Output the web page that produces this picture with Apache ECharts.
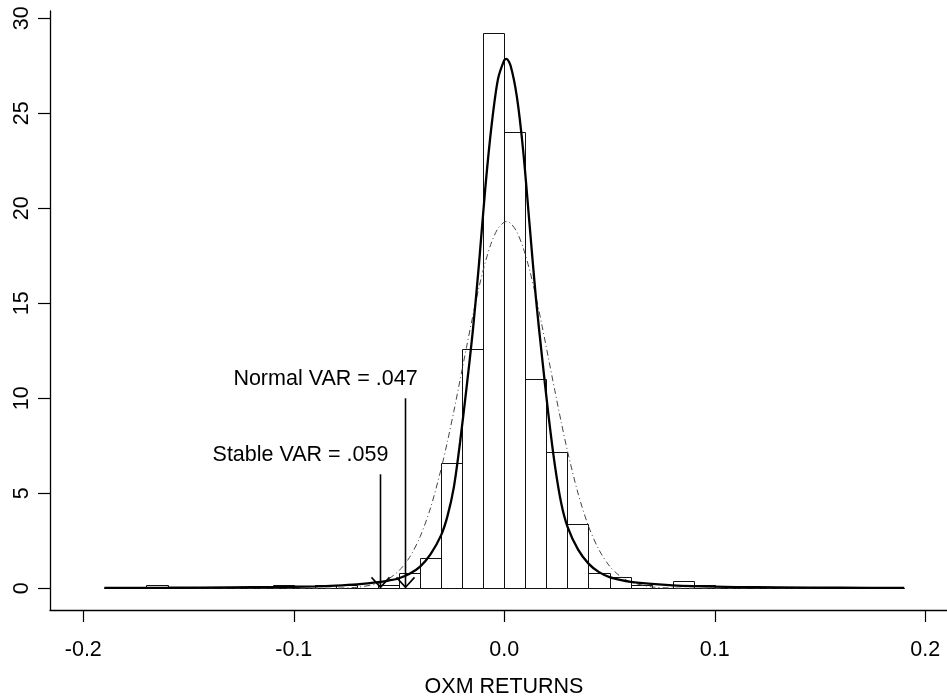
<!DOCTYPE html>
<html>
<head>
<meta charset="utf-8">
<title>OXM RETURNS</title>
<script src="https://cdn.jsdelivr.net/npm/echarts@6.0.0/dist/echarts.min.js"></script>
<style>
html, body { margin: 0; padding: 0; background: #fff; }
#main { width: 947px; height: 698px; }
</style>
</head>
<body>
<div id="main"></div>
<script>
// histogram: left edge of each bin and its density height (bin width .01)
var binStart = [-0.19, -0.18, -0.17, -0.16, -0.15, -0.14, -0.13, -0.12, -0.11, -0.10,
                -0.09, -0.08, -0.07, -0.06, -0.05, -0.04, -0.03, -0.02, -0.01, 0.00,
                0.01, 0.02, 0.03, 0.04, 0.05, 0.06, 0.07, 0.08, 0.09, 0.10,
                0.11, 0.12, 0.13, 0.14, 0.15, 0.16, 0.17, 0.18];
var binHeight = [0, 0, 0.2, 0, 0, 0, 0, 0, 0.2, 0,
                 0.2, 0.2, 0, 0.2, 0.8, 1.6, 6.6, 12.6, 29.2, 24.0,
                 11.0, 7.2, 3.4, 0.8, 0.6, 0.2, 0, 0.4, 0.2, 0,
                 0, 0, 0, 0, 0, 0, 0, 0];
var binWidth = 0.01;

// fitted densities
var curveX = [-0.19, -0.16, -0.13, -0.11, -0.09, -0.08, -0.07, -0.06, -0.055, -0.05,
              -0.045, -0.04, -0.035, -0.03, -0.027, -0.024, -0.021, -0.018, -0.015, -0.012,
              -0.009, -0.006, -0.003, 0, 0.001, 0.003, 0.006, 0.009, 0.012, 0.015,
              0.018, 0.021, 0.024, 0.027, 0.03, 0.035, 0.04, 0.045, 0.05, 0.055,
              0.06, 0.07, 0.08, 0.09, 0.11, 0.13, 0.16, 0.19];
var stableY = [0.02, 0.03, 0.047, 0.065, 0.105, 0.145, 0.21, 0.32, 0.41, 0.53,
               0.76, 1.14, 1.8, 2.8, 3.8, 5.3, 7.7, 10.5, 13.5, 17.1,
               21.1, 24.4, 26.8, 27.8, 27.86, 27.5, 25.85, 23.0, 19.15, 15.3,
               12.1, 9.1, 6.5, 4.5, 3.25, 2.05, 1.3, 0.85, 0.59, 0.44,
               0.34, 0.23, 0.155, 0.115, 0.067, 0.048, 0.03, 0.02];
var normalY = [0, 0, 0, 0, 0.001, 0.009, 0.054, 0.25, 0.50, 0.93,
               1.63, 2.71, 4.25, 6.29, 7.73, 9.30, 10.97, 12.66, 14.31, 15.85,
               17.17, 18.23, 18.94, 19.28, 19.30, 19.21, 18.75, 17.91, 16.76, 15.36,
               13.78, 12.10, 10.41, 8.77, 7.23, 5.01, 3.27, 2.02, 1.17, 0.64,
               0.33, 0.075, 0.013, 0.002, 0, 0, 0, 0];

// axes
var xTicks = [-0.2, -0.1, 0, 0.1, 0.2];
var xTickLabels = ['-0.2', '-0.1', '0.0', '0.1', '0.2'];
var yTicks = [0, 5, 10, 15, 20, 25, 30];

// VAR arrows
var varX = [-0.059, -0.047];
var varTop = [6, 10];
var varLabels = ['Stable VAR = .059', 'Normal VAR = .047'];
var arrowTip = 0.05;

var FONT = '"Liberation Sans", Arial, Helvetica, sans-serif';
var FS = 21.5;

var histData = [];
for (var i = 0; i < binStart.length; i++) {
    histData.push([binStart[i], binHeight[i]]);
}
var stableData = [], normalData = [];
for (var i = 0; i < curveX.length; i++) {
    stableData.push([curveX[i], stableY[i]]);
    normalData.push([curveX[i], normalY[i]]);
}
var arrowData = [];
for (var i = 0; i < varX.length; i++) {
    arrowData.push([varX[i], varTop[i]]);
}

var myChart = echarts.init(document.getElementById('main'));
var option = {
    animation: false,
    backgroundColor: '#fff',
    grid: { left: 50, right: 0, top: 11, bottom: 88, outerBoundsMode: 'none' },
    xAxis: {
        type: 'value',
        min: -0.21582,
        max: 0.21031,
        name: 'OXM RETURNS',
        nameLocation: 'middle',
        nameGap: 66,
        nameTextStyle: { color: '#000', fontSize: FS, fontFamily: FONT, padding: [0, 0, 0, 11] },
        axisLine: { onZero: false, lineStyle: { color: '#000', width: 1.3 } },
        axisTick: { customValues: xTicks, length: 12, lineStyle: { color: '#000', width: 1.2 } },
        axisLabel: {
            customValues: xTicks,
            margin: 29,
            color: '#000',
            fontSize: FS,
            fontFamily: FONT,
            formatter: function (v) {
                for (var k = 0; k < xTicks.length; k++) {
                    if (Math.abs(xTicks[k] - v) < 1e-9) return xTickLabels[k];
                }
                return '';
            }
        },
        splitLine: { show: false }
    },
    yAxis: {
        type: 'value',
        min: -1.142,
        max: 30.384,
        axisLine: { onZero: false, lineStyle: { color: '#000', width: 1.3 } },
        axisTick: { customValues: yTicks, length: 12, lineStyle: { color: '#000', width: 1.2 } },
        axisLabel: {
            customValues: yTicks,
            rotate: 90,
            margin: 17,
            color: '#000',
            fontSize: FS,
            fontFamily: FONT
        },
        splitLine: { show: false }
    },
    series: [
        {
            // histogram bars
            type: 'custom',
            data: histData,
            renderItem: function (params, api) {
                var x0 = api.value(0), h = api.value(1);
                var p0 = api.coord([x0, h]);
                var p1 = api.coord([x0 + binWidth, 0]);
                var left = Math.round(p0[0]) + 0.5;
                var right = Math.round(p1[0]) + 0.5;
                var top = Math.round(p0[1]) + 0.5;
                var bottom = Math.round(p1[1]) + 0.5;
                return {
                    type: 'rect',
                    shape: { x: left, y: top, width: right - left, height: bottom - top },
                    style: { fill: 'rgba(0,0,0,0)', stroke: '#111', lineWidth: 1 }
                };
            },
            z: 2
        },
        {
            // normal fit
            type: 'line',
            data: normalData,
            showSymbol: false,
            smooth: 0.3,
            lineStyle: { color: '#444', width: 1, type: [6, 3, 1, 3] },
            z: 3
        },
        {
            // stable fit
            type: 'line',
            data: stableData,
            showSymbol: false,
            smooth: 0.3,
            lineStyle: { color: '#000', width: 2.3 },
            z: 4
        },
        {
            // VAR arrows with labels
            type: 'custom',
            data: arrowData,
            clip: false,
            renderItem: function (params, api) {
                var top = api.coord([api.value(0), api.value(1)]);
                var tip = api.coord([api.value(0), arrowTip]);
                var x = Math.round(tip[0]) + 0.5;
                return {
                    type: 'group',
                    children: [
                        {
                            type: 'line',
                            shape: { x1: x, y1: top[1], x2: x, y2: tip[1] },
                            style: { stroke: '#000', lineWidth: 1.6 }
                        },
                        {
                            type: 'polyline',
                            shape: { points: [[x - 9, tip[1] - 10], [x, tip[1]], [x + 9, tip[1] - 10]] },
                            style: { stroke: '#000', fill: null, lineWidth: 1.6 }
                        },
                        {
                            type: 'text',
                            x: x - 80,
                            y: top[1] - 19,
                            style: {
                                text: varLabels[params.dataIndex],
                                fontSize: FS,
                                fontFamily: FONT,
                                fill: '#000',
                                align: 'center',
                                verticalAlign: 'middle'
                            }
                        }
                    ]
                };
            },
            z: 5
        }
    ]
};
myChart.setOption(option, true);
</script>
</body>
</html>
